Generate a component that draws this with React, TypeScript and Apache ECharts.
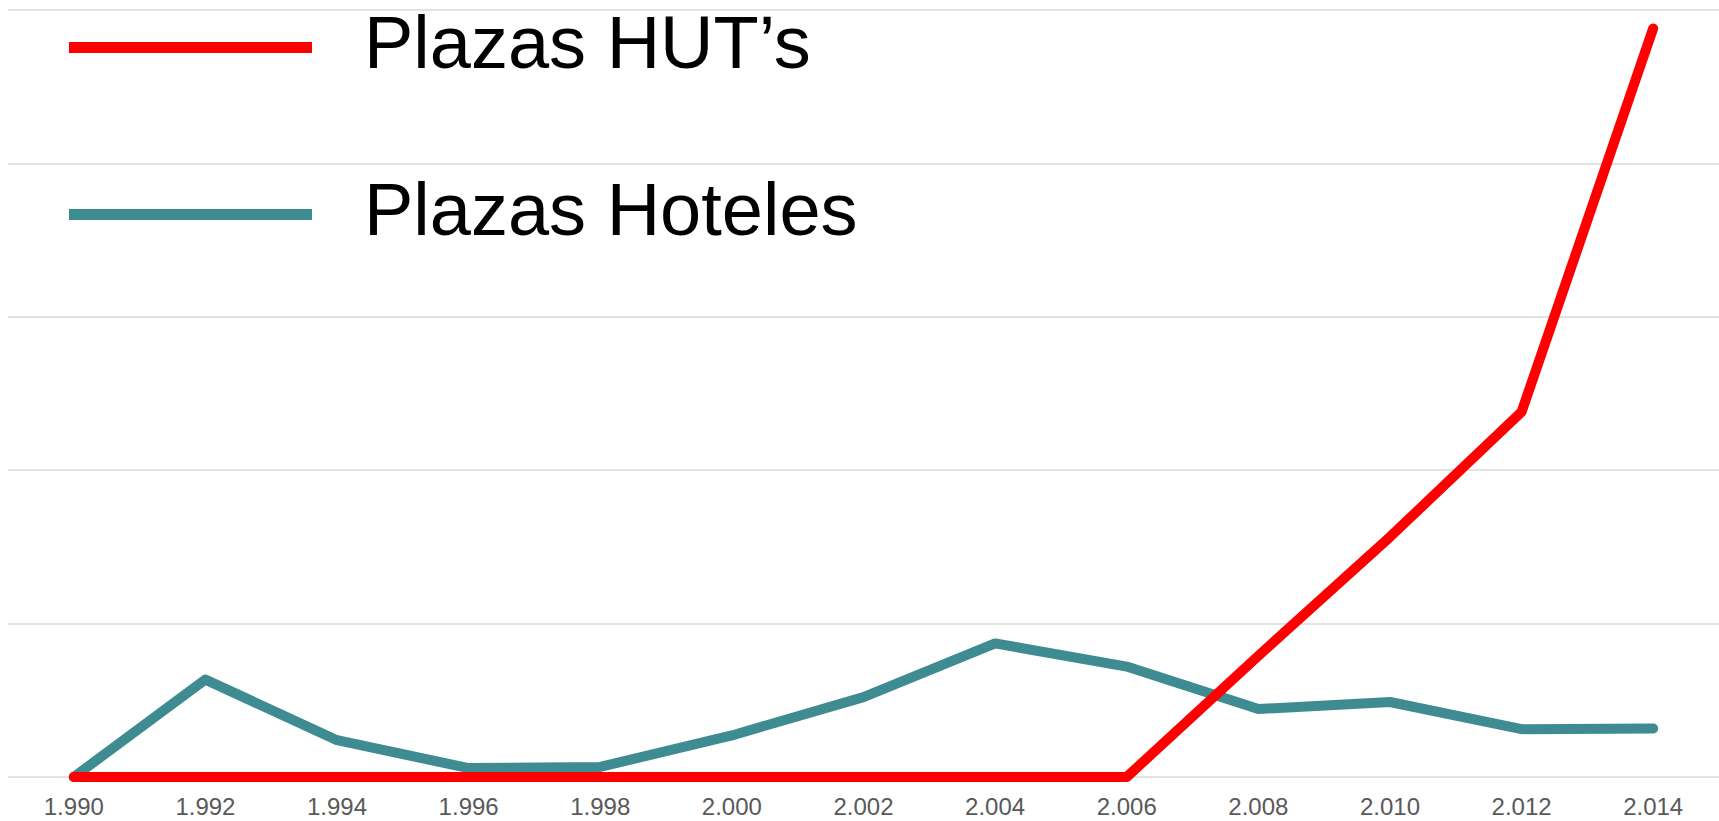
import React, { useEffect, useRef } from "react";
import * as echarts from "echarts";

const years: string[] = ["1.990", "1.992", "1.994", "1.996", "1.998", "2.000", "2.002", "2.004", "2.006", "2.008", "2.010", "2.012", "2.014"];
const plazasHUT: number[] = [0, 0, 0, 0, 0, 0, 0, 0, 0, 7900, 15650, 23800, 48800];
const plazasHoteles: number[] = [0, 6350, 2400, 580, 660, 2710, 5210, 8710, 7200, 4430, 4890, 3120, 3160];

const RED = "#FF0000";
const TEAL = "#3E8C92";
const FONT = "'Liberation Sans', Arial, sans-serif";
// legend line drawn in the lower half of its icon box so the text sits a bit above it
const LEGEND_ICON = "path://M0,0M0,11H243V22H0Z";

export default function App() {
  const ref = useRef<HTMLDivElement>(null);
  useEffect(() => {
    if (!ref.current) return;
    const chart = echarts.init(ref.current, null, { renderer: "svg" });
    const legendText = { fontSize: 74, color: "#000", fontFamily: FONT, padding: [0, 0, 12, 47] };
    chart.setOption({
      animation: false,
      backgroundColor: "#ffffff",
      grid: { left: 8, right: 0, top: 10, bottom: 44, containLabel: false },
      legend: [
        {
          data: ["Plazas HUT’s"],
          left: 69,
          top: 5,
          padding: 0,
          icon: LEGEND_ICON,
          itemWidth: 243,
          itemHeight: 22,
          selectedMode: false,
          textStyle: legendText,
        },
        {
          data: ["Plazas Hoteles"],
          left: 69,
          top: 172,
          padding: 0,
          icon: LEGEND_ICON,
          itemWidth: 243,
          itemHeight: 22,
          selectedMode: false,
          textStyle: legendText,
        },
      ],
      xAxis: {
        type: "category",
        data: years,
        boundaryGap: true,
        axisLine: { show: false },
        axisTick: { show: false },
        axisLabel: { color: "#595959", fontSize: 24, fontFamily: FONT, margin: 17 },
        splitLine: { show: false },
      },
      yAxis: {
        type: "value",
        min: 0,
        max: 50000,
        interval: 10000,
        axisLabel: { show: false },
        axisLine: { show: false },
        axisTick: { show: false },
        splitLine: { show: true, lineStyle: { color: "#D9D9D9", width: 1.5 } },
      },
      series: [
        {
          name: "Plazas Hoteles",
          type: "line",
          data: plazasHoteles,
          showSymbol: false,
          symbol: "none",
          clip: false,
          color: TEAL,
          lineStyle: { color: TEAL, width: 10, cap: "round", join: "round" },
        },
        {
          name: "Plazas HUT’s",
          type: "line",
          data: plazasHUT,
          showSymbol: false,
          symbol: "none",
          clip: false,
          color: RED,
          lineStyle: { color: RED, width: 10, cap: "round", join: "round" },
        },
      ],
    });
    return () => chart.dispose();
  }, []);
  return (
    <div
      ref={ref}
      style={{ position: "fixed", left: 0, top: 0, width: 1719, height: 821 }}
    />
  );
}
